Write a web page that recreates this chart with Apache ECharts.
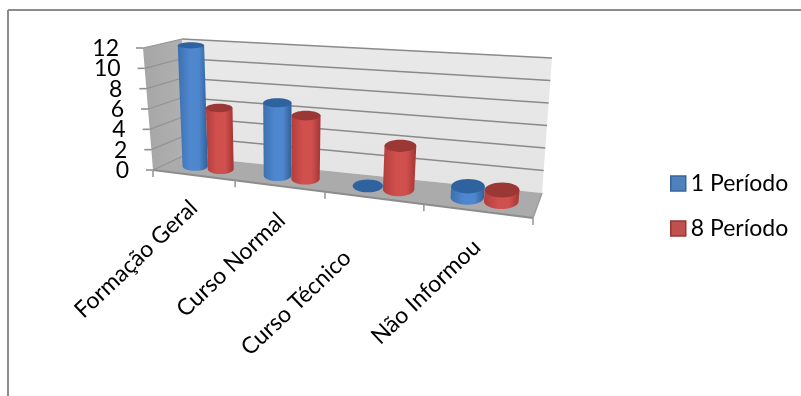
<!DOCTYPE html>
<html>
<head>
<meta charset="utf-8">
<style>html,body{margin:0;padding:0;background:#fff}#chart{width:801px;height:396px}</style>
<script src="https://cdn.jsdelivr.net/npm/echarts@6/dist/echarts.min.js"></script>
</head>
<body>
<div id="chart"></div>
<script>
// Chart data
const categories = ['Formação Geral', 'Curso Normal', 'Curso Técnico', 'Não Informou'];
const period1 = [12, 7, 0, 1];
const period8 = [6, 6, 4, 1];
const seriesNames = ['1 Período', '8 Período'];
const valueTicks = [0, 2, 4, 6, 8, 10, 12];

// Corners of the 3D box on the page: floor and ceiling, front and back edges
const box = {
  floor: { fl: [153, 170], fr: [533, 218], bl: [183, 156], br: [542, 193] },
  ceil:  { fl: [143, 48],  fr: [547, 77],  bl: [182, 39],  br: [552, 58] }
};
const FONT = 'Lato';
const TEXT_COLOR = '#000';
const LABEL_SIZE = 23;
const VALUE_SIZE = 23;
const LEGEND_SIZE = 23;
const PERSPECTIVE = -0.173;
const BAR_WIDTH = 0.32;   // in category units
const BAR_SHIFT = 0.01;   // the pair sits a touch right of the category centre
const BAR_DEPTH = 0.5;    // bars stand mid-way along the floor
const CAP_RATIO = 0.32;
// Shift of each rotated category label from its spot on the front edge
const labelShift = [[-57, 84], [-48, 79], [-77, 105], [-51, 81]];

const lerp = (a, b, t) => [a[0] + (b[0] - a[0]) * t, a[1] + (b[1] - a[1]) * t];
const warp = s => s * (1 + PERSPECTIVE) / (1 + PERSPECTIVE * s);

function planePoint(p, s, d) {
  const t = warp(s);
  return lerp(lerp(p.fl, p.fr, t), lerp(p.bl, p.br, t), d);
}

// Turn a grid coordinate (category position, value) into a point in the box
function project(params, api, u, v, d) {
  const c = api.coord([u, v]);
  const r = params.coordSys;
  const s = (c[0] - r.x) / r.width;
  const h = (r.y + r.height - c[1]) / r.height;
  return lerp(planePoint(box.floor, s, d), planePoint(box.ceil, s, d), h);
}

const line = (a, b, color, width) => ({
  type: 'line', silent: true,
  shape: { x1: a[0], y1: a[1], x2: b[0], y2: b[1] },
  style: { stroke: color, lineWidth: width, fill: null }
});
const poly = (points, fill) => ({ type: 'polygon', silent: true, shape: { points }, style: { fill } });

function renderBox(params, api) {
  if (params.dataIndex !== 0) return null;
  const P = (u, v, d) => project(params, api, u, v, d);
  const n = categories.length;
  const top = valueTicks[valueTicks.length - 1];
  const kids = [];
  kids.push(poly([P(0, 0, 0), P(0, top, 0), P(0, top, 1), P(0, 0, 1)], {
    type: 'linear', x: 0, y: 0, x2: 1, y2: 0,
    colorStops: [{ offset: 0, color: '#a6a6a6' }, { offset: 1, color: '#b0b0b0' }]
  }));
  kids.push(poly([P(0, 0, 1), P(0, top, 1), P(n, top, 1), P(n, 0, 1)], {
    type: 'linear', x: 0, y: 0, x2: 0, y2: 1,
    colorStops: [{ offset: 0, color: '#e9e9e9' }, { offset: 1, color: '#e4e4e4' }]
  }));
  kids.push(poly([P(0, 0, 0), P(0, 0, 1), P(n, 0, 1), P(n, 0, 0)], '#ababab'));
  valueTicks.forEach(v => {
    if (v > 0) kids.push(line(P(0, v, 1), P(n, v, 1), '#8a8a8a', 1.6));
    kids.push(line(P(0, v, 0), P(0, v, 1), '#929292', 1.2));
    const f = P(0, v, 0);
    kids.push(line([f[0] - 7, f[1]], f, '#8f8f8f', 1.6));
    // Axis numbers slide along the slanted front edge of the wall
    kids.push({
      type: 'text', silent: true, x: f[0] - 24, y: f[1] + 0.5,
      style: {
        text: String(v), fontFamily: FONT, fontSize: VALUE_SIZE, fill: TEXT_COLOR,
        align: 'right', verticalAlign: 'middle'
      }
    });
  });
  kids.push(line(P(0, 0, 0), P(n, 0, 0), '#8c8c8c', 1.8));
  kids.push(line(P(n, 0, 0), P(n, 0, 1), '#9a9a9a', 1.4));
  for (let u = 0; u <= n; u++) {
    const f = P(u, 0, 0);
    kids.push(line(f, [f[0], f[1] + 7], '#9a9a9a', 1.6));
  }
  categories.forEach((name, i) => {
    const f = P(i + 0.5, 0, 0);
    kids.push({
      type: 'text', silent: true,
      x: f[0] + labelShift[i][0], y: f[1] + labelShift[i][1],
      rotation: Math.PI * 43.5 / 180,
      style: {
        text: name, fontFamily: FONT, fontSize: LABEL_SIZE, fill: TEXT_COLOR,
        align: 'center', verticalAlign: 'middle'
      }
    });
  });
  return { type: 'group', children: kids };
}

// One cylinder: shaded body plus a darker cap
function cylinderRenderer(offset, look) {
  return function (params, api) {
    const i = api.value(0);
    const val = api.value(1);
    const u = i + 0.5 + offset + BAR_SHIFT;
    const half = BAR_WIDTH / 2;
    const P = (x, v, d) => project(params, api, x, v, d);
    const ring = v => {
      const c = P(u, v, BAR_DEPTH);
      const rx = (P(u + half, v, BAR_DEPTH)[0] - P(u - half, v, BAR_DEPTH)[0]) / 2;
      const ry = Math.abs(P(u, v, 0)[1] - P(u, v, 1)[1]) * CAP_RATIO;
      return { cx: c[0], cy: c[1], rx, ry };
    };
    const base = ring(0);
    const head = ring(val);
    const kids = [];
    if (val > 0) {
      const pts = [[head.cx - head.rx, head.cy]];
      for (let k = 0; k <= 24; k++) {
        const a = Math.PI - Math.PI * k / 24;
        pts.push([base.cx + base.rx * Math.cos(a), base.cy + base.ry * Math.sin(a)]);
      }
      pts.push([head.cx + head.rx, head.cy]);
      kids.push(poly(pts, {
        type: 'linear', x: 0, y: 0, x2: 1, y2: 0,
        colorStops: [
          { offset: 0, color: look.edgeL },
          { offset: 0.4, color: look.mid },
          { offset: 0.7, color: look.mid },
          { offset: 1, color: look.edgeR }
        ]
      }));
    }
    kids.push({
      type: 'ellipse', silent: true,
      shape: { cx: head.cx, cy: head.cy, rx: head.rx, ry: head.ry },
      style: { fill: look.cap }
    });
    return { type: 'group', children: kids };
  };
}

const blueLook = { edgeL: '#3c70ae', mid: '#4f87cf', edgeR: '#2f5f98', cap: '#2f639f' };
const redLook = { edgeL: '#b23e3c', mid: '#d0504e', edgeR: '#a33533', cap: '#9b3735' };

const chart = echarts.init(document.getElementById('chart'), null, { renderer: 'canvas' });
chart.setOption({
  animation: false,
  backgroundColor: '#fff',
  grid: { left: 153, top: 48, width: 380, height: 122, containLabel: false },
  xAxis: { type: 'value', min: 0, max: categories.length, interval: 1, show: false },
  yAxis: { type: 'value', min: 0, max: 12, interval: 2, show: false },
  legend: {
    orient: 'vertical', left: 670, top: 172, padding: 0, itemWidth: 15, itemHeight: 15, itemGap: 22,
    textStyle: { fontFamily: FONT, fontSize: LEGEND_SIZE, color: TEXT_COLOR },
    data: [
      { name: seriesNames[0], icon: 'rect', itemStyle: { color: '#4f81bd', borderColor: '#38649a', borderWidth: 1.5 } },
      { name: seriesNames[1], icon: 'rect', itemStyle: { color: '#c0504d', borderColor: '#943634', borderWidth: 1.5 } }
    ],
    selectedMode: false
  },
  graphic: [
    { type: 'line', shape: { x1: 8, y1: 10, x2: 801, y2: 10 }, style: { stroke: '#8c8c8c', lineWidth: 2 } },
    { type: 'line', shape: { x1: 8, y1: 10, x2: 8, y2: 396 }, style: { stroke: '#8c8c8c', lineWidth: 2 } }
  ],
  series: [
    {
      type: 'custom', name: 'box', coordinateSystem: 'cartesian2d', silent: true, z: 1,
      renderItem: renderBox, data: [[0, 0]], encode: { x: 0, y: 1 }
    },
    {
      type: 'custom', name: seriesNames[0], coordinateSystem: 'cartesian2d', z: 2,
      renderItem: cylinderRenderer(-BAR_WIDTH / 2, blueLook),
      itemStyle: { color: '#4f81bd' },
      data: period1.map((v, i) => [i, v]), encode: { x: 0, y: 1 }
    },
    {
      type: 'custom', name: seriesNames[1], coordinateSystem: 'cartesian2d', z: 3,
      renderItem: cylinderRenderer(BAR_WIDTH / 2, redLook),
      itemStyle: { color: '#c0504d' },
      data: period8.map((v, i) => [i, v]), encode: { x: 0, y: 1 }
    }
  ]
});
</script>
</body>
</html>
